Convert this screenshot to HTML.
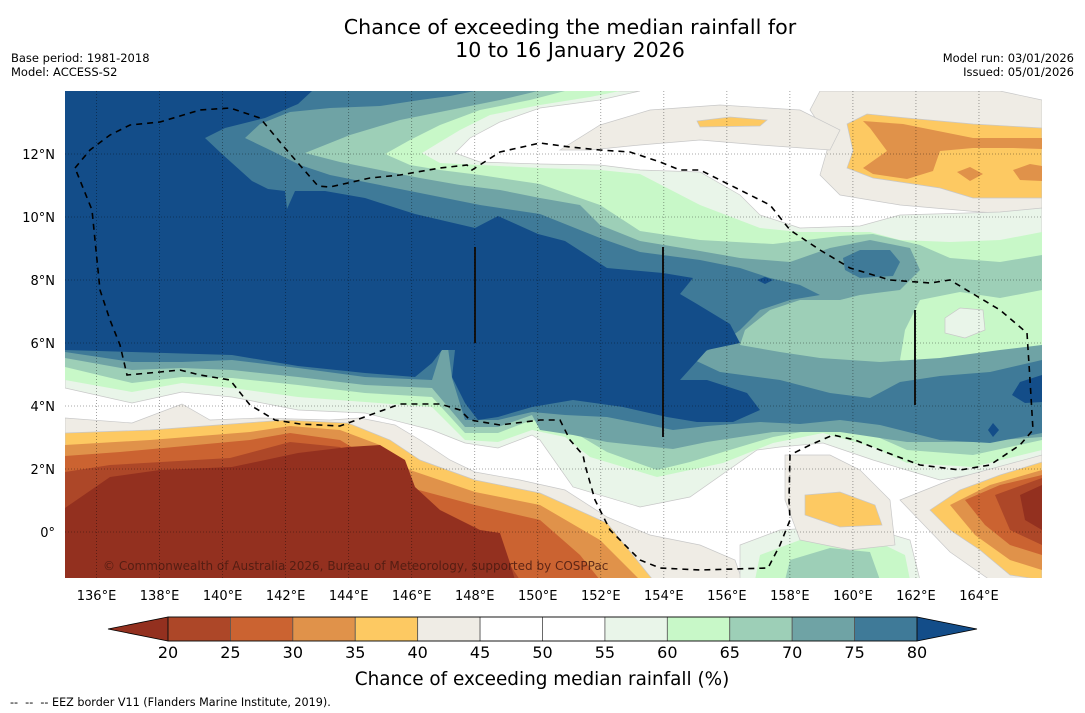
<!DOCTYPE html>
<html><head><meta charset="utf-8"><style>
html,body{margin:0;padding:0;background:#fff;width:1085px;height:713px;overflow:hidden}
svg{display:block;font-family:"DejaVu Sans","Liberation Sans",sans-serif}
</style></head><body>
<svg id="chart" width="1085" height="713" viewBox="0 0 1085 713" xmlns="http://www.w3.org/2000/svg">
<defs><clipPath id="mapclip"><rect x="65" y="91" width="977" height="487"/></clipPath></defs>
<text x="570" y="34" text-anchor="middle" font-size="20.6">Chance of exceeding the median rainfall for</text>
<text x="570" y="57" text-anchor="middle" font-size="20.6">10 to 16 January 2026</text>
<text x="11" y="62" font-size="11.5">Base period: 1981-2018</text>
<text x="11" y="76" font-size="11.5">Model: ACCESS-S2</text>
<text x="1074" y="62" font-size="11.5" text-anchor="end">Model run: 03/01/2026</text>
<text x="1074" y="76" font-size="11.5" text-anchor="end">Issued: 05/01/2026</text>
<g id="map" clip-path="url(#mapclip)"></g>
<g id="grid"></g>
<g id="axes"></g>
<g id="cbar"></g>
<text x="542" y="685" text-anchor="middle" font-size="18.4">Chance of exceeding median rainfall (%)</text>
<text x="10" y="706" font-size="11.2" xml:space="preserve" style="white-space:pre">--  --  -- EEZ border V11 (Flanders Marine Institute, 2019).</text>
</svg>
<script>
// colorbar data
const levels = [20,25,30,35,40,45,50,55,60,65,70,75,80];
const binColors = ['#ad4728','#cb6331','#e0924a','#fdc962','#efece5','#ffffff','#ffffff','#e9f5e9','#c8f8c8','#9dcfb7','#6fa3a5','#3f7a98'];
const underColor = '#93301f';
const overColor = '#134d89';
// axes ticks
const lonTicks = [136,138,140,142,144,146,148,150,152,154,156,158,160,162,164];
const latTicks = [0,2,4,6,8,10,12];
const lonRange = [135,166];
const latRange = [-1.46,14];

const NS='http://www.w3.org/2000/svg';
function mk(tag, attrs, parent){const e=document.createElementNS(NS,tag);for(const k in attrs)e.setAttribute(k,attrs[k]);parent.appendChild(e);return e;}
const X0=65,X1=1042,Y0=91,Y1=578;
function xLon(l){return X0+(l-lonRange[0])*(X1-X0)/(lonRange[1]-lonRange[0]);}
function yLat(l){return Y0+(latRange[1]-l)*(Y1-Y0)/(latRange[1]-latRange[0]);}

const C={d20:'#93301f',b25:'#ad4728',b30:'#cb6331',o35:'#e0924a',y40:'#fdc962',g45:'#efece5',p60:'#e9f5e9',g65:'#c8f8c8',t70:'#9dcfb7',t75:'#6fa3a5',s80:'#3f7a98',d80:'#134d89'};
const regions = [
['ne-beige',C.g45,"820,91 1000,91 1042,100 1042,215 980,212 900,205 840,195 820,175 830,140 810,110"],
['mid-beige',C.g45,"600,125 650,110 720,105 800,110 840,130 830,150 760,145 700,140 640,145 590,150 560,150"],
['mid-yellow',C.y40,"697,121 730,117 767,120 760,126 700,127"],
['ne-yellow',C.y40,"847,124 867,114 907,118 973,124 1042,128 1042,198 973,198 940,188 873,178 847,168 853,151"],
['ne-orange',C.o35,"863,121 903,124 973,138 1042,138 1042,149 1013,148 973,148 940,151 933,171 907,179 873,174 863,168 887,151 870,128"],
['ne-orange2',C.o35,"957,172 970,167 983,174 970,181"],
['ne-orange3',C.o35,"1013,170 1030,164 1042,166 1042,181 1020,180"],
['pale-55',C.p60,"65,91 640,91 600,100 540,108 500,122 470,138 455,153 480,162 540,164 600,165 640,170 700,172 740,195 760,215 800,228 860,226 900,215 1000,212 1042,208 1042,463 940,480 873,460 823,443 780,447 757,450 690,497 640,507 573,487 540,440 532,435 498,448 465,443 432,430 365,413 298,410 232,397 182,392 132,403 65,388"],
['green-60',C.g65,"65,91 620,91 590,97 540,105 490,115 460,130 440,142 422,153 440,163 480,165 540,168 600,170 640,174 700,205 760,228 800,232 870,232 900,240 950,242 1000,240 1042,232 1042,450 973,467 907,463 873,447 823,433 773,443 723,463 657,477 590,457 565,437 532,430 498,442 465,440 432,407 365,402 298,397 232,388 182,383 132,392 65,380"],
['teal-65',C.t70,"65,91 565,91 530,100 480,110 440,125 410,140 385,154 410,165 440,170 480,175 540,184 600,205 640,231 700,240 773,244 840,236 873,234 920,245 950,258 1000,262 1042,255 1042,290 1000,298 960,292 920,300 905,330 900,360 940,365 1000,352 1042,345 1042,440 973,455 907,450 873,435 823,428 773,437 723,452 690,462 657,470 607,452 565,427 532,420 498,433 465,433 432,397 365,393 298,385 232,378 182,377 132,383 65,367"],
['teal-70',C.t75,"65,91 538,91 500,100 450,110 400,120 350,135 305,153 340,162 380,170 420,178 460,185 500,190 540,198 580,205 600,225 640,241 700,251 740,258 790,262 830,248 870,240 910,248 920,270 900,290 860,295 840,300 800,300 770,310 745,330 740,345 780,352 820,358 880,362 940,358 1000,350 1042,345 1042,437 973,442 907,442 840,432 773,432 707,442 673,449 607,442 573,435 540,430 532,415 498,427 465,427 432,388 365,385 298,377 232,370 182,368 132,370 65,358"],
['steel-75',C.s80,"65,91 475,91 450,96 420,100 380,106 330,108 290,112 260,124 245,138 270,150 300,165 330,175 380,185 430,195 480,205 540,214 600,238 640,252 700,260 740,268 770,278 800,285 820,295 790,300 760,310 740,330 720,345 690,358 720,372 780,380 830,393 870,398 900,382 940,376 990,372 1042,360 1042,433 990,443 940,440 880,425 840,420 800,424 760,422 707,426 673,430 607,417 565,415 532,412 498,420 465,420 452,378 448,348 442,348 432,380 365,377 298,368 232,360 182,362 132,362 65,352"],
['steel-blob',C.s80,"843,258 860,250 890,250 900,262 893,276 860,278 845,270"],
['dark-80',C.d80,"65,91 312,91 298,104 265,118 225,128 205,138 222,154 252,181 268,189 285,191 287,209 295,191 325,191 365,198 415,214 475,228 498,216 538,234 565,241 607,268 663,273 693,278 680,294 697,304 730,324 740,343 707,350 680,380 707,380 747,393 760,410 733,422 697,422 667,417 623,407 573,400 532,407 498,417 478,420 465,403 452,377 455,350 442,350 432,363 415,377 365,373 298,366 232,355 132,352 65,350"],
['dark-east',C.d80,"1042,375 1020,382 1012,395 1025,403 1042,402"],
['dark-east2',C.d80,"993,423 999,430 993,437 988,430"],
['dark-mid',C.d80,"757,280 765,277 773,280 765,284"],
['pale-east',C.p60,"945,318 960,308 983,310 985,330 965,338 945,333"],
['s-beige',C.g45,"65,418 132,423 182,404 210,420 260,418 330,420 360,418 395,425 420,440 450,460 475,472 520,480 565,490 607,517 650,535 700,545 735,560 742,580 65,580"],
['s-yellow',C.y40,"65,433 150,430 285,420 348,423 390,440 420,460 475,480 540,493 607,523 653,580 65,580"],
['s-orange',C.o35,"65,445 150,440 250,432 290,426 340,430 380,445 410,470 475,492 540,505 600,540 640,580 65,580"],
['s-brown30',C.b30,"65,456 120,452 250,440 290,433 340,440 370,458 400,485 475,505 540,520 580,555 600,580 65,580"],
['s-brown25',C.b25,"65,472 110,465 230,458 290,442 340,447 365,470 395,498 430,518 475,527 500,550 520,580 65,580"],
['s-brown20',C.d20,"65,508 110,477 160,470 232,467 298,453 348,447 380,445 405,460 415,487 440,510 480,530 500,533 510,563 515,580 65,580"],
['sm-pale',C.p60,"740,545 780,530 860,525 910,540 920,580 740,580"],
['sm-green',C.g65,"760,555 800,540 870,538 905,555 910,580 755,580"],
['sm-teal',C.t70,"790,560 830,548 870,552 880,580 785,580"],
['sm-beige',C.g45,"785,455 830,455 860,470 890,500 895,545 850,550 800,540 785,500"],
['sm-yellow',C.y40,"805,495 840,492 875,505 882,525 840,527 805,515"],
['se-beige',C.g45,"900,500 950,480 1042,455 1042,580 990,580 950,552"],
['se-yellow',C.y40,"930,510 960,490 1000,475 1042,462 1042,580 1010,575 980,550 950,530"],
['se-orange',C.o35,"950,505 990,485 1042,470 1042,570 1010,560 975,535"],
['se-brown30',C.b30,"965,500 1000,485 1042,475 1042,555 1010,545 985,525"],
['se-brown25',C.b25,"995,495 1042,478 1042,545 1010,530"],
['se-brown20',C.d20,"1020,495 1042,485 1042,530 1025,520"]
];
const lightFills=[C.g45,C.p60,C.y40];
const map=document.getElementById('map');
for(const r of regions){
  const attrs={points:r[2],fill:r[1]};
  if(lightFills.includes(r[1])){attrs.stroke='#c8c8c8';attrs['stroke-width']=0.7;}
  const p=mk('polygon',attrs,map);
  
  
}
const eez="75,168 90,150 110,135 130,125 160,122 200,110 230,108 260,118 285,148 318,186 330,187 370,178 400,175 440,168 467,165 472,170 500,152 540,143 570,147 600,150 630,152 660,162 680,170 700,170 740,190 770,205 790,230 820,250 850,268 890,280 930,283 950,280 975,295 1000,310 1027,333 1030,380 1033,430 1020,445 990,465 960,470 920,465 880,450 855,440 833,435 810,445 790,455 789,500 790,520 780,545 768,568 700,570 660,568 640,560 610,530 595,500 585,465 583,455 570,440 560,420 540,420 500,425 470,420 460,410 440,404 400,404 370,415 340,426 300,424 275,420 250,405 230,380 200,375 180,370 160,372 127,375 120,345 110,320 100,290 92,210 75,168";
const eezEl=mk('polyline',{points:eez,fill:'none',stroke:'#000','stroke-width':1.6,'stroke-dasharray':'6,5'},map);


const bars=[[475,247,343],[663,247,437],[915,310,405]];
for(const b of bars){
  const l=mk('line',{x1:b[0],x2:b[0],y1:b[1],y2:b[2],stroke:'#111','stroke-width':2},map);
  
  
}
const cp=mk('text',{x:103,y:570,'font-size':12,fill:'#4a1a10','fill-opacity':'0.85'},map);
cp.textContent='\u00a9 Commonwealth of Australia 2026, Bureau of Meteorology, supported by COSPPac';



const grid=document.getElementById('grid'), axes=document.getElementById('axes');
for(const lon of lonTicks){
  const x=xLon(lon);
  const g=mk('line',{x1:x,x2:x,y1:Y0,y2:Y1,stroke:'#000','stroke-opacity':0.45,'stroke-width':0.8,'stroke-dasharray':'1,2'},grid);
  
  
  const t=mk('text',{x:x,y:600,'text-anchor':'middle','font-size':13},axes);
  t.textContent=lon+'\u00b0E';
  
  
}
for(const lat of latTicks){
  const y=yLat(lat);
  const g=mk('line',{x1:X0,x2:X1,y1:y,y2:y,stroke:'#000','stroke-opacity':0.45,'stroke-width':0.8,'stroke-dasharray':'1,2'},grid);
  
  
  const t=mk('text',{x:55,y:y+5,'text-anchor':'end','font-size':13},axes);
  t.textContent=lat===0?'0\u00b0':lat+'\u00b0N';
  
  
}

const cb=document.getElementById('cbar');
const CB0=168,CB1=917,CT=617,CBt=641;
function xLev(v){return CB0+(v-levels[0])*(CB1-CB0)/(levels[levels.length-1]-levels[0]);}
const lt=mk('polygon',{points:`108,${(CT+CBt)/2} ${CB0},${CT} ${CB0},${CBt}`,fill:underColor,stroke:'#000','stroke-width':0.8},cb);


const rt=mk('polygon',{points:`977,${(CT+CBt)/2} ${CB1},${CT} ${CB1},${CBt}`,fill:overColor,stroke:'#000','stroke-width':0.8},cb);


for(let i=0;i<binColors.length;i++){
  const x=xLev(levels[i]), w=xLev(levels[i+1])-x;
  const r=mk('rect',{x:x,y:CT,width:w,height:CBt-CT,fill:binColors[i],stroke:'#555','stroke-width':0.8},cb);
  
  
}
mk('rect',{x:CB0,y:CT,width:CB1-CB0,height:CBt-CT,fill:'none',stroke:'#000','stroke-width':0.8},cb);
for(const v of levels){
  const t=mk('text',{x:xLev(v),y:658,'text-anchor':'middle','font-size':16},cb);
  t.textContent=v;
  
  
}
</script>
</body></html>
